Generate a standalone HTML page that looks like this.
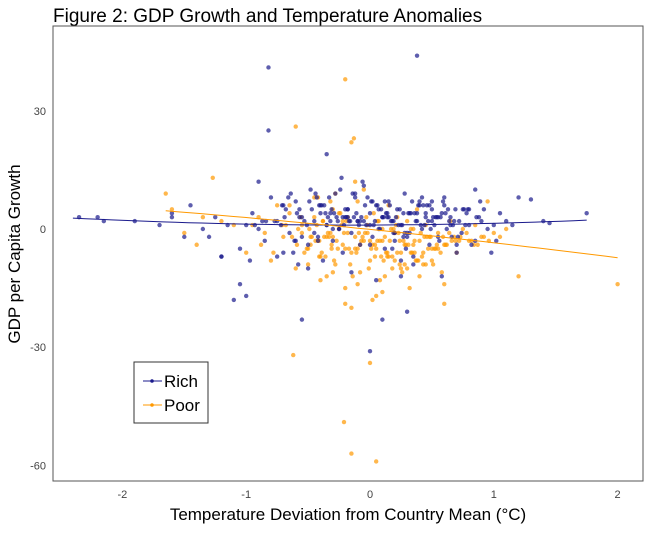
<!DOCTYPE html>
<html><head><meta charset="utf-8"><style>
body{margin:0;background:#fff;font-family:"Liberation Sans",sans-serif}
</style></head><body>
<svg id="c" width="652" height="529" xmlns="http://www.w3.org/2000/svg">
<text x="53" y="22" font-size="19" fill="#000" font-family="Liberation Sans">Figure 2: GDP Growth and Temperature Anomalies</text>
<rect x="53" y="26" width="590" height="455" fill="none" stroke="#555" stroke-width="1"/>
<g id="pts"></g>
<g id="axes"></g>
<text x="348" y="520" font-size="17" text-anchor="middle" font-family="Liberation Sans">Temperature Deviation from Country Mean (°C)</text>
<text transform="translate(20,254) rotate(-90)" font-size="17" text-anchor="middle" font-family="Liberation Sans">GDP per Capita Growth</text>
<g>
<rect x="134" y="362" width="74" height="61" fill="#fff" stroke="#333" stroke-width="1"/>
<g><line x1="143" y1="381" x2="162" y2="381" stroke="#1a1a8c" stroke-width="1"/><circle cx="152" cy="381" r="1.8" fill="#1a1a8c"/><text x="164" y="387" font-size="17">Rich</text></g>
<g><line x1="143" y1="405" x2="162" y2="405" stroke="#ff9900" stroke-width="1"/><circle cx="152" cy="405" r="1.8" fill="#ff9900"/><text x="164" y="411" font-size="17">Poor</text></g>
</g>
</svg>
<script>
const xTicks=[-2,-1,0,1,2];
const yTicks=[30,0,-30,-60];
const richX=[-0.82,0.38,-0.82,-0.35,0.1,0.0,-0.55,-1.0,-1.1,-2.35,-2.2,-2.15,1.75,1.45,1.4,1.2,1.3,0.3,0.25,-1.9,-1.7,-1.6,-1.5,-1.45,-1.35,-1.25,-1.2,-1.15,-1.05,-0.95,-0.9,-0.85,-0.8,-0.75,-0.7,-0.68,-0.65,-0.6,-0.58,-0.55,-0.5,-0.48,-0.45,-0.42,-0.4,-0.38,-0.35,-0.32,-0.3,-0.28,-0.25,-0.22,-0.2,-0.18,-0.15,-0.12,-0.1,-0.08,-0.05,-0.03,0.0,0.02,0.05,0.07,0.1,0.12,0.15,0.18,0.2,0.22,0.25,0.28,0.3,0.32,0.35,0.38,0.4,0.42,0.45,0.48,0.5,0.52,0.55,0.58,0.6,0.62,0.65,0.7,0.72,0.75,0.8,0.85,0.88,0.9,0.95,1.0,1.05,1.1,1.15,-0.3,-0.1,0.1,0.2,-0.2,0.0,0.3,-0.4,0.5,-0.6,0.6,-0.25,0.15,-0.45,0.35,-0.15,0.05,0.45,-0.7,0.7,-0.05,0.25,-0.35,0.55,-0.5,0.8,-0.9,0.4,-0.55,0.65,-0.12,0.08,0.18,-0.22,-0.32,0.28,0.38,0.48,-0.42,-0.62,0.58,-1.3,-1.6,-1.05,0.85,-0.75,0.12,-0.08,0.32,-0.18,0.02,
-0.27,-0.14,0.04,0.16,0.27,0.41,0.53,0.66,0.78,-0.66,-0.53,-0.39,-0.24,-0.09,0.09,0.21,0.34,0.47,0.61,0.74,-0.71,-0.57,-0.44,-0.31,-0.17,-0.02,0.13,0.26,0.39,0.51,0.63,0.77,0.89,-0.84,-0.61,-0.47,-0.33,-0.19,-0.06,0.06,0.19,0.31,0.44,0.57,0.69,0.82,-0.77,-0.64,-0.51,-0.37,-0.23,-0.11,0.01,0.14,0.24,0.37,0.49,0.59,0.71,0.86,-0.93,-0.57,-0.43,-0.29,-0.16,-0.04,0.11,0.23,0.36,0.46,0.56,0.68,0.79,-0.69,-0.49,-0.36,-0.21,-0.07,0.07,0.17,0.29,0.42,0.54,0.67,-0.59,-0.41,-0.26,-0.13,0.03,0.19,0.33,0.5,0.64,0.76,-0.34,-0.18,0.0,0.14,0.27,0.43,-1.0,-1.2,0.98,1.02,0.92,-0.97,-0.87,-0.72];
const richY=[41,44,25,19,-23,-31,-23,-17,-18,3,3,2,4,1.5,2,8,7.5,-21,-12,2,1,4,-2,6,0,3,-7,1,-5,4,12,-3,8,2,-6,5,-1,7,-9,3,-4,10,2,-2,6,-8,1,4,-3,9,0,-6,3,5,-1,8,2,-4,11,1,4,-2,6,0,3,-5,7,2,-3,5,1,9,-1,4,-7,2,6,0,3,-4,5,1,-2,4,8,0,3,-6,2,5,1,-3,3,2,0,1,4,2,1,0,2,3,-1,5,1,-2,4,2,-3,6,0,3,-1,-9,-11,-13,4,6,-4,2,-8,1,3,-10,5,0,7,-2,1,9,0,-5,3,2,-1,4,6,-3,-6,-12,-2,3,-14,10,-7,7,2,-1,
5,7,3,9,2,6,4,1,3,-2,4,8,2,6,10,1,5,3,7,2,4,-1,6,3,9,5,2,8,4,1,6,3,5,1,7,2,-3,5,8,3,12,6,2,4,1,3,5,-4,2,9,1,6,13,4,7,3,5,2,0,7,-2,3,1,5,8,4,2,6,3,1,4,6,-3,2,5,3,7,4,1,3,5,2,-5,8,3,1,4,6,2,3,1,-1,4,7,2,5,3,3,-4,4,-2,6,1,-7,-6,-3,5,-8,2,1];
const poorX=[-0.2,-0.6,-0.15,-0.13,-0.21,-0.15,0.05,0.0,-0.62,2.0,1.2,-1.65,-1.27,0.6,-0.2,-1.6,-1.4,-1.2,-1.0,-0.9,-0.8,-0.75,-0.7,-0.65,-0.6,-0.55,-0.5,-0.45,-0.42,-0.4,-0.38,-0.35,-0.32,-0.3,-0.28,-0.25,-0.22,-0.2,-0.18,-0.15,-0.12,-0.1,-0.08,-0.05,-0.02,0.0,0.03,0.05,0.08,0.1,0.12,0.15,0.18,0.2,0.22,0.25,0.28,0.3,0.33,0.35,0.38,0.4,0.43,0.45,0.48,0.5,0.55,0.6,0.65,0.7,0.75,0.8,0.85,0.9,1.0,1.1,-0.3,-0.1,0.1,0.2,-0.4,0.3,-0.5,0.4,-0.2,0.0,0.15,-0.35,0.25,-0.45,0.35,-0.55,0.5,-0.25,0.05,-0.05,0.45,-0.65,0.6,-0.15,0.12,-0.32,0.22,-0.42,0.32,-0.12,0.08,-0.28,0.18,0.42,-0.38,0.52,-0.48,0.62,-0.58,0.72,-0.68,0.02,-0.02,0.28,-0.22,0.38,0.58,-0.78,0.82,-0.88,0.92,-1.1,-0.3,0.1,-0.1,0.2,
-0.63,-0.51,-0.43,-0.36,-0.27,-0.19,-0.11,-0.04,0.04,0.11,0.19,0.27,0.36,0.44,0.53,0.64,-0.56,-0.47,-0.39,-0.31,-0.23,-0.16,-0.07,0.01,0.07,0.14,0.23,0.31,0.39,0.49,0.57,0.69,-0.59,-0.49,-0.41,-0.33,-0.24,-0.17,-0.09,-0.01,0.06,0.13,0.21,0.29,0.37,0.46,0.55,0.66,0.78,-0.71,-0.53,-0.44,-0.34,-0.26,-0.14,-0.06,0.02,0.09,0.17,0.24,0.34,0.41,0.51,0.61,0.73,-0.48,-0.37,-0.29,-0.21,-0.12,-0.03,0.04,0.16,0.26,0.33,0.43,0.54,0.68,-0.41,-0.31,-0.18,-0.08,0.06,0.14,0.24,0.36,0.47,0.59,0.84,0.96,1.05,-0.85,-0.95,-1.5,-1.35,0.95,0.87];
const poorY=[38,26,22,23,-49,-57,-59,-34,-32,-14,-12,9,13,-19,-19,5,-4,2,-6,3,-8,6,-2,4,-10,1,-5,8,-3,-7,2,-12,-1,5,-9,0,-4,-15,3,-6,-2,7,-11,-3,1,-8,4,-5,-13,0,-2,6,-7,-1,3,-10,-4,2,-6,0,5,-3,-9,1,-2,-5,-1,-4,2,-6,0,-3,1,-2,-1,0,-11,-14,-16,-8,-13,-10,-9,-12,-5,-3,-7,-2,-6,3,-4,-1,-8,4,-17,10,-9,6,-14,-20,-12,7,-6,8,-15,12,-3,9,-10,-7,2,-5,-2,-4,0,-3,1,-18,-1,-9,2,-8,-11,-6,-3,-4,-2,1,-2,-3,-5,-1,
-2,-5,1,-7,-3,2,-6,-1,-4,-8,0,-3,-6,-2,-5,-1,3,-2,-6,-4,1,-9,-3,-5,2,-7,-1,-4,-8,-2,-6,-3,-4,0,-7,-2,4,-5,-1,-10,-3,-6,1,-4,-8,-2,-5,-3,-1,1,-6,-3,-1,-5,-12,-2,-4,-7,0,-3,-6,-1,-9,-4,-2,-4,-2,-8,-1,-5,3,-7,-3,-11,0,-6,-4,-2,-3,-5,-1,-4,2,-6,-9,-3,-5,-2,-4,-3,-2,-1,1,-1,3,7,-4,-2];
const richFit=[1.0,0.1,0.35];
const poorFit=[-0.1,-3.2,-0.2];
const X=v=>370+v*123.8, Y=v=>229-v*3.94;
const NS="http://www.w3.org/2000/svg";
const pts=document.getElementById('pts'), ax=document.getElementById('axes');
function mk(t,a,p){const e=document.createElementNS(NS,t);for(const k in a)e.setAttribute(k,a[k]);p.appendChild(e);return e;}
xTicks.forEach(t=>{const e=mk('text',{x:X(t),y:498,'font-size':11,'text-anchor':'middle',fill:'#444'},ax);e.textContent=t;

});
yTicks.forEach(t=>{const e=mk('text',{x:46,y:Y(t)+4,'font-size':11,'text-anchor':'end',fill:'#444'},ax);e.textContent=t;

});
function drawPts(xs,ys,col,name){const n=Math.min(xs.length,ys.length);for(let i=0;i<n;i++){const c=mk('circle',{cx:X(xs[i]),cy:Y(ys[i]),r:2.2,fill:col,'fill-opacity':0.7},pts);

}}
drawPts(poorX,poorY,'#ff9900','poor-point');
drawPts(richX,richY,'#1a1a8c','rich-point');
function fit(f,x0,x1,col,name){let d='';for(let i=0;i<=40;i++){const x=x0+(x1-x0)*i/40,y=f[0]+f[1]*x+f[2]*x*x;d+=(i?'L':'M')+X(x).toFixed(1)+','+Y(y).toFixed(1);}
const p=mk('path',{d:d,fill:'none',stroke:col,'stroke-width':1},pts);

}
fit(richFit,-2.4,1.75,'#1a1a8c','rich-fit-line');
fit(poorFit,-1.65,2.0,'#ff9900','poor-fit-line');
</script>
</body></html>
